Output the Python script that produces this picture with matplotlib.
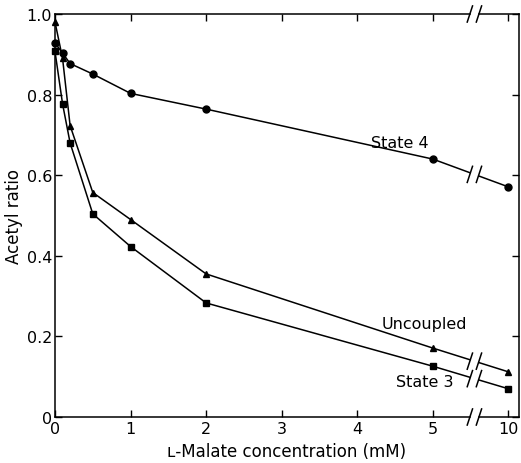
import numpy as np
import matplotlib.pyplot as plt

plt.rcParams['font.family'] = ['DejaVu Sans']

# malate concentration (mM); 10 mM sits after the axis break
conc = [0, 0.1, 0.2, 0.5, 1, 2, 5, 10]
tick_vals = [0, 1, 2, 3, 4, 5, 10]
tick_labels = ['0', '1', '2', '3', '4', '5', '10']

state4 = [0.928, 0.903, 0.877, 0.851, 0.803, 0.764, 0.640, 0.571]
uncoupled = [0.980, 0.890, 0.723, 0.557, 0.490, 0.355, 0.171, 0.112]
state3 = [0.907, 0.777, 0.680, 0.504, 0.423, 0.283, 0.126, 0.070]


def pos(x):
    # 0..5 linear, 10 placed one unit after 5
    x = np.asarray(x, dtype=float)
    return np.where(x > 5, 6.0, x)


brk = 5.55   # break position on the axis
gap = 0.06
xmax = 6.14

fig = plt.figure(figsize=(5.21, 4.64), dpi=100)
ax = fig.add_axes([55 / 521, 46 / 464, 464 / 521, 403 / 464])
ax.set_xlim(0, xmax)
ax.set_ylim(0, 1.0)


def slash(x, y):
    dx, dy = 0.035, 0.02
    for off in (-gap, gap):
        ax.plot([x + off - dx, x + off + dx], [y - dy, y + dy], color='black',
                lw=1.1, clip_on=False, zorder=4)


for ys, mk in [(state4, 'o'), (uncoupled, '^'), (state3, 's')]:
    px = pos(conc)
    yb = np.interp([brk - gap, brk + gap], px, ys)
    lx = list(px[:-1]) + [brk - gap, np.nan, brk + gap, px[-1]]
    ly = list(ys[:-1]) + [yb[0], np.nan, yb[1], ys[-1]]
    ax.plot(lx, ly, color='black', lw=1.1, zorder=3)
    ax.plot(px, ys, linestyle='none', marker=mk, color='black', markersize=5, zorder=3,
            clip_on=False)
    slash(brk, np.interp(brk, px, ys))

# broken top / bottom spines
for s in ('top', 'bottom'):
    ax.spines[s].set_visible(False)
for yy in (0, 1):
    ax.plot([0, brk - gap], [yy, yy], color='black', lw=1.1, clip_on=False, zorder=4)
    ax.plot([brk + gap, xmax], [yy, yy], color='black', lw=1.1, clip_on=False, zorder=4)
    slash(brk, yy)
ax.spines['left'].set_linewidth(1.1)
ax.spines['right'].set_linewidth(1.1)

ax.set_xticks(pos(tick_vals))
ax.set_xticklabels(tick_labels)
ax.set_yticks([0, 0.2, 0.4, 0.6, 0.8, 1.0])
ax.set_yticklabels(['0', '0.2', '0.4', '0.6', '0.8', '1.0'])
ax.tick_params(direction='in', top=True, right=True, labelsize=11.5, length=5, width=1,
               pad=2)
ax.tick_params(axis='x', pad=3)

ax.text(4.56, 0.682, 'State 4', fontsize=11.5, ha='center', va='center')
ax.text(4.89, 0.231, 'Uncoupled', fontsize=11.5, ha='center', va='center')
ax.text(4.89, 0.087, 'State 3', fontsize=11.5, ha='center', va='center')

ax.set_xlabel('ʟ-Malate concentration (mM)', fontsize=12, labelpad=4)
ax.set_ylabel('Acetyl ratio', fontsize=12, labelpad=3)

fig.savefig('out.png', dpi=100)
